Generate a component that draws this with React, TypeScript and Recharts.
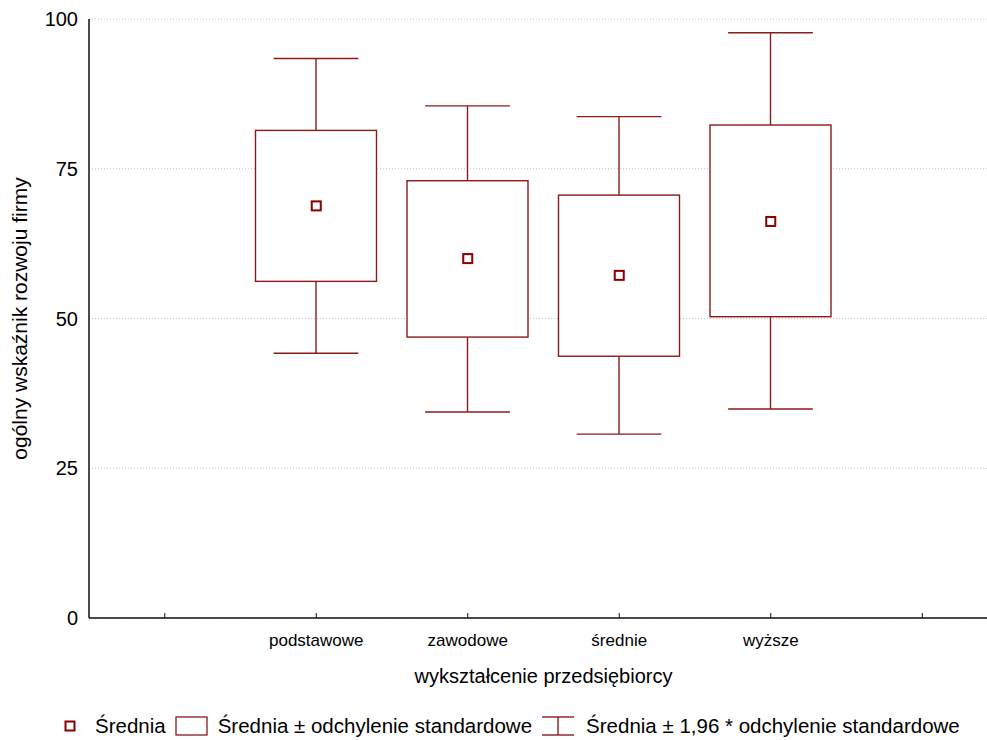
import { ComposedChart, Bar, Scatter, XAxis, YAxis, CartesianGrid, Legend, Label } from 'recharts';

const categories = ['pad-left', 'podstawowe', 'zawodowe', 'średnie', 'wyższe', 'pad-right'];
const means = [null, 68.8, 60.0, 57.2, 66.2, null];
const sdLow = [null, 56.2, 46.9, 43.7, 50.3, null];
const sdHigh = [null, 81.4, 73.0, 70.6, 82.3, null];
const ciLow = [null, 44.2, 34.4, 30.7, 34.9, null];
const ciHigh = [null, 93.4, 85.5, 83.7, 97.7, null];
const yTicks = [0, 25, 50, 75, 100];

const FONT = '"Liberation Sans", Arial, sans-serif';
const LINE = '#8b1a1a';
const MEAN = '#8b0000';

const data = categories.map((name, i) => ({
  name,
  mean: means[i],
  sdLow: sdLow[i],
  sdHigh: sdHigh[i],
  ci: ciLow[i] == null ? null : [ciLow[i], ciHigh[i]],
}));

const catLabel = (v: string) => (v.startsWith('pad') ? '' : v);

// whiskers + box, positioned from the bar's own (ci range) geometry
const BoxShape = (props: any) => {
  const { x, y, width, height, payload } = props;
  if (!payload || !payload.ci || !height) return null;
  const [lo, hi] = payload.ci;
  const top = Math.min(y, y + height);
  const h = Math.abs(height);
  const ppu = h / (hi - lo);
  const cx = x + width / 2;
  const boxTop = top + (hi - payload.sdHigh) * ppu;
  const boxBottom = top + (hi - payload.sdLow) * ppu;
  const cap = width * 0.7;
  return (
    <g stroke={LINE} strokeWidth={1.4} fill="none">
      <line x1={cx} x2={cx} y1={top} y2={boxTop} />
      <line x1={cx} x2={cx} y1={boxBottom} y2={top + h} />
      <line x1={cx - cap / 2} x2={cx + cap / 2} y1={top} y2={top} />
      <line x1={cx - cap / 2} x2={cx + cap / 2} y1={top + h} y2={top + h} />
      <rect x={x} y={boxTop} width={width} height={boxBottom - boxTop} fill="#fff" />
    </g>
  );
};

const MeanShape = (props: any) => {
  const { cx, cy } = props;
  if (cx == null || cy == null || isNaN(cy)) return null;
  return <rect x={cx - 4.5} y={cy - 4.5} width={9} height={9} fill="#fff" stroke={MEAN} strokeWidth={2} />;
};

const LegendContent = () => (
  <div
    style={{
      display: 'flex',
      alignItems: 'center',
      height: 28,
      paddingLeft: 64,
      fontFamily: FONT,
      fontSize: 20.5,
      color: '#000',
      whiteSpace: 'nowrap',
    }}
  >
    <svg width={12} height={12}>
      <rect x={1.5} y={1.5} width={9} height={9} fill="#fff" stroke={MEAN} strokeWidth={2} />
    </svg>
    <span style={{ marginLeft: 19 }}>Średnia</span>
    <svg width={34} height={22} style={{ marginLeft: 9 }}>
      <rect x={1} y={2} width={31} height={18} fill="#fff" stroke={LINE} strokeWidth={1.3} />
    </svg>
    <span style={{ marginLeft: 9 }}>Średnia ± odchylenie standardowe</span>
    <svg width={36} height={22} style={{ marginLeft: 8 }}>
      <g stroke={LINE} strokeWidth={1.4}>
        <line x1={2} x2={34} y1={2} y2={2} />
        <line x1={18} x2={18} y1={2} y2={20} />
        <line x1={2} x2={34} y1={20} y2={20} />
      </g>
    </svg>
    <span style={{ marginLeft: 10 }}>Średnia ± 1,96 * odchylenie standardowe</span>
  </div>
);

export default function App() {
  return (
    <div
      style={{
        position: 'fixed',
        left: 0,
        top: 0,
        width: 987,
        height: 740,
        overflow: 'hidden',
        background: '#fff',
        fontFamily: FONT,
      }}
    >
      <ComposedChart width={1000} height={740} data={data} margin={{ top: 19, right: 2, left: 0, bottom: 0 }}>
        <CartesianGrid vertical={false} stroke="#c4c4c4" strokeDasharray="1 2" />
        <XAxis
          dataKey="name"
          tickFormatter={catLabel}
          height={94}
          tickSize={-5}
          tickMargin={21}
          axisLine={{ stroke: '#111', strokeWidth: 1.5 }}
          tickLine={{ stroke: '#111' }}
          tick={{ fill: '#000', fontSize: 17, fontFamily: FONT }}
          interval={0}
        >
          <Label
            value="wykształcenie przedsiębiorcy"
            position="insideBottom"
            offset={29}
            style={{ fill: '#000', fontSize: 20, fontFamily: FONT }}
          />
        </XAxis>
        <XAxis
          xAxisId="top"
          dataKey="name"
          orientation="top"
          height={0}
          tick={false}
          tickSize={-5}
          axisLine={{ stroke: '#111', strokeWidth: 1.5 }}
          tickLine={{ stroke: '#111' }}
          interval={0}
        />
        <YAxis
          domain={[0, 100]}
          ticks={yTicks}
          width={89}
          tickSize={0}
          tickLine={false}
          tickMargin={11}
          axisLine={{ stroke: '#111', strokeWidth: 1.5 }}
          tick={{ fill: '#000', fontSize: 20, fontFamily: FONT }}
        >
          <Label
            value="ogólny wskaźnik rozwoju firmy"
            angle={-90}
            position="insideLeft"
            offset={20}
            style={{ fill: '#000', fontSize: 21, fontFamily: FONT, textAnchor: 'middle' }}
          />
        </YAxis>
        <Bar dataKey="ci" barSize={121} shape={BoxShape} isAnimationActive={false} />
        <Scatter dataKey="mean" shape={MeanShape} isAnimationActive={false} />
        <Legend verticalAlign="bottom" content={LegendContent} wrapperStyle={{ left: 0, bottom: 0, width: 987, height: 28 }} />
      </ComposedChart>
    </div>
  );
}
